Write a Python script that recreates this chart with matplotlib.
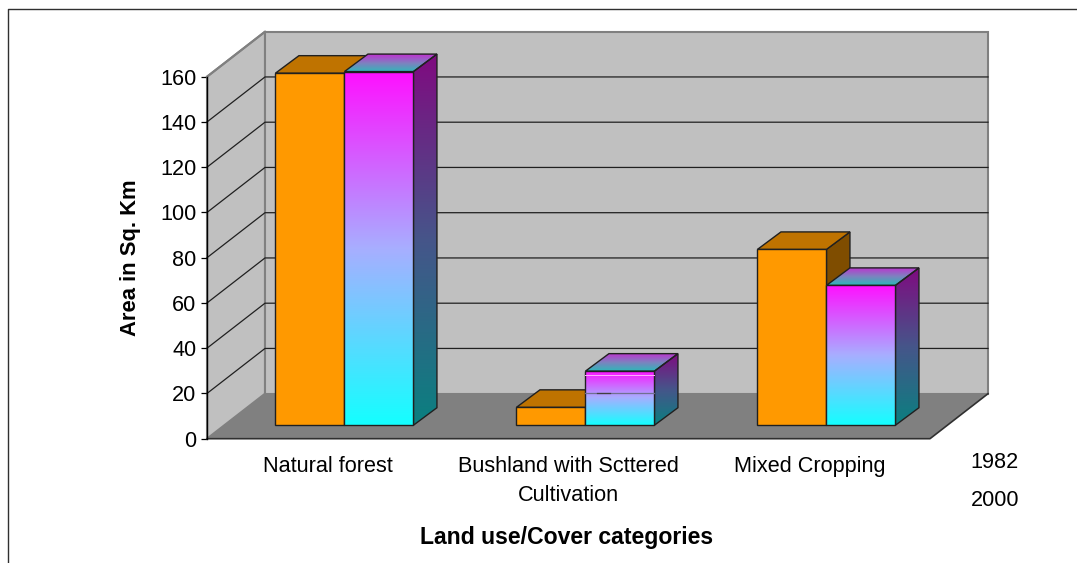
import matplotlib
matplotlib.use("Agg")
import matplotlib.pyplot as plt
import numpy as np
from matplotlib.colors import LinearSegmentedColormap
from matplotlib.patches import Polygon

# ── Data ─────────────────────────────────────────────────────────────────────
categories = ["Natural forest", "Bushland with Scttered\nCultivation", "Mixed Cropping"]
years = ["1982", "2000"]
values_1982 = [155.6, 7.9, 77.7]
values_2000 = [156.3, 23.9, 61.8]
yticks = [0, 20, 40, 60, 80, 100, 120, 140, 160]

# ── Palette ──────────────────────────────────────────────────────────────────
WALL = "#C0C0C0"
FLOOR = "#808080"
EDGE = "#808080"
ORANGE = "#FF9900"
ORANGE_TOP = "#BF7300"
ORANGE_SIDE = "#7F4D00"

front_cmap = LinearSegmentedColormap.from_list("front", ["#14FFFF", "#A8AEFF", "#FF10FF"])
side_cmap = LinearSegmentedColormap.from_list("side", ["#0A8080", "#46558A", "#800A80"])
top_cmap = LinearSegmentedColormap.from_list("top", ["#2DB8B8", "#8080C0", "#C030D0"])

plt.rcParams["font.family"] = ["Liberation Sans", "DejaVu Sans"]

W, H = 1077, 563
fig = plt.figure(figsize=(W / 100, H / 100), dpi=100, facecolor="white")
ax = fig.add_axes([207 / W, (H - 438.7) / H, (930 - 207) / W, (438.7 - 76.7) / H])
ax.set_xlim(0, 3)
ax.set_ylim(0, 160)
ax.set_facecolor("none")
ax.set_autoscale_on(False)

# pixel -> data sizes
PX = 3 / (930 - 207)
PY = 160 / (438.7 - 76.7)

# ── Walls and floor ──────────────────────────────────────────────────────────
wall_dx, wall_dy = 58 * PX, 45 * PY
right = 3 + wall_dx
ax.add_patch(Polygon([(0, 0), (wall_dx, wall_dy), (wall_dx, 160 + wall_dy), (0, 160)],
                     closed=True, fc=WALL, ec=EDGE, lw=1.5, clip_on=False, zorder=1))
ax.add_patch(Polygon([(wall_dx, wall_dy), (right, wall_dy), (right, 160 + wall_dy), (wall_dx, 160 + wall_dy)],
                     closed=True, fc=WALL, ec=EDGE, lw=1.5, clip_on=False, zorder=1))
ax.add_patch(Polygon([(0, 0), (3, 0), (right, wall_dy), (wall_dx, wall_dy)],
                     closed=True, fc=FLOOR, ec="none", clip_on=False, zorder=2))
ax.plot([0, 3, right], [0, 0, wall_dy], color="#303030", lw=1.2, clip_on=False, zorder=2)

# gridlines on side and back wall
for v in yticks[1:-1]:
    ax.plot([0, wall_dx, right], [v, v + wall_dy, v + wall_dy],
            color="#202020", lw=0.9, clip_on=False, zorder=3)
ax.plot([0, wall_dx], [160, 160 + wall_dy], color=EDGE, lw=1.5, clip_on=False, zorder=3)

# ── Bars ─────────────────────────────────────────────────────────────────────
bar_w = 69 * PX
bar_start = 0.284
base = 5.96
dep_x, dep_y = 23.5 * PX, 17.5 * PY
grad = np.linspace(1, 0, 256).reshape(-1, 1)


def fill_grad(poly, cmap, z):
    xs, ys = zip(*poly)
    im = ax.imshow(grad, cmap=cmap, vmin=0, vmax=1, aspect="auto", interpolation="bilinear",
                   extent=(min(xs), max(xs), min(ys), max(ys)), origin="upper", zorder=z)
    im.set_clip_box(fig.bbox)
    clip = Polygon(poly, closed=True, transform=ax.transData)
    im.set_clip_path(clip)
    ax.add_patch(Polygon(poly, closed=True, fill=False, ec="#202020", lw=1.0, clip_on=False, zorder=z + 0.1))


def faces(x, v):
    top = base + v
    front = [(x, base), (x + bar_w, base), (x + bar_w, top), (x, top)]
    side = [(x + bar_w, base), (x + bar_w + dep_x, base + dep_y),
            (x + bar_w + dep_x, top + dep_y), (x + bar_w, top)]
    lid = [(x, top), (x + bar_w, top), (x + bar_w + dep_x, top + dep_y), (x + dep_x, top + dep_y)]
    return front, side, lid


z = 5
for i in range(len(categories)):
    x1 = i + bar_start
    x2 = x1 + bar_w
    # 1982 - flat orange box
    front, side, lid = faces(x1, values_1982[i])
    ax.add_patch(Polygon(side, closed=True, fc=ORANGE_SIDE, ec="#202020", lw=1.0, clip_on=False, zorder=z))
    ax.add_patch(Polygon(lid, closed=True, fc=ORANGE_TOP, ec="#202020", lw=1.0, clip_on=False, zorder=z))
    ax.add_patch(Polygon(front, closed=True, fc=ORANGE, ec="#202020", lw=1.0, clip_on=False, zorder=z + 0.2))
    # 2000 - gradient box
    front, side, lid = faces(x2, values_2000[i])
    fill_grad(side, side_cmap, z + 1)
    fill_grad(lid, top_cmap, z + 1)
    fill_grad(front, front_cmap, z + 1.2)
    z += 2

# stray render lines across the short gradient bar
x2 = 1 + bar_start + bar_w
ax.plot([x2, x2 + bar_w], [base + values_2000[1] - 1.6] * 2, color="#FFB0FF", lw=0.7, zorder=z)
ax.plot([x2, x2 + bar_w], [20 + 0.4] * 2, color="#707090", lw=0.9, zorder=z)
ax.plot([x2 + 12 * PX, x2 + 25 * PX], [20 + 0.4] * 2, color="#404040", lw=0.9, zorder=z)

# ── Axes and text ────────────────────────────────────────────────────────────
for name in ["top", "right", "bottom"]:
    ax.spines[name].set_visible(False)
ax.spines["left"].set_color("black")
ax.spines["left"].set_linewidth(1.0)
ax.spines["left"].set_zorder(4)

ax.set_yticks(yticks)
ax.tick_params(axis="y", length=4.5, width=0.9, pad=3, labelsize=15.6)
ax.set_xticks([0.5, 1.5, 2.5], categories)
ax.tick_params(axis="x", length=0, pad=12.5, labelsize=15.6)
for lab in ax.get_xticklabels():
    lab.set_linespacing(1.5)

fig.text(130.5 / W, 1 - 258 / H, "Area in Sq. Km", rotation=90, ha="center", va="center",
         fontsize=15.8, fontweight="bold")
fig.text(567 / W, 1 - 537.5 / H, "Land use/Cover categories", ha="center", va="center",
         fontsize=16.6, fontweight="bold")
for name, y in zip(years, [463, 501]):
    fig.text(995 / W, 1 - y / H, name, ha="center", va="center", fontsize=15.6)

# outer chart frame, cut by the bottom and right of the image
fig.add_artist(plt.Line2D([8 / W, 8 / W, 1], [0, 1 - 8.5 / H, 1 - 8.5 / H],
                          color="#303030", lw=1.0))

fig.savefig("out.png", dpi=100, facecolor="white")
